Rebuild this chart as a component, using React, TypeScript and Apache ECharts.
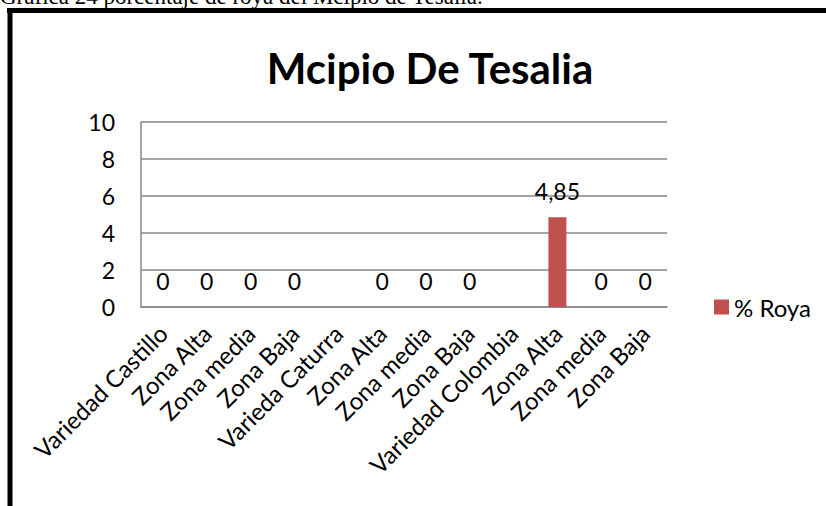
import React, { useEffect, useRef } from "react";
import * as echarts from "echarts";

const caption = "Grafica 24 porcentaje de roya del Mcipio de Tesalia.";
const title = "Mcipio De Tesalia";
const seriesName = "% Roya";
const categories = [
  "Variedad Castillo",
  "Zona Alta",
  "Zona media",
  "Zona Baja",
  "Varieda Caturra",
  "Zona Alta",
  "Zona media",
  "Zona Baja",
  "Variedad Colombia",
  "Zona Alta",
  "Zona media",
  "Zona Baja",
];
const values: (number | null)[] = [0, 0, 0, 0, null, 0, 0, 0, null, 4.85, 0, 0];
const yTicks = { min: 0, max: 10, interval: 2 };

const FONT = "Lato, 'Open Sans', sans-serif";

export default function App() {
  const ref = useRef<HTMLDivElement>(null);
  useEffect(() => {
    if (!ref.current) return;
    const chart = echarts.init(ref.current, undefined, { renderer: "svg" });
    chart.setOption({
      animation: false,
      backgroundColor: "#ffffff",
      title: {
        text: title,
        left: 425,
        textAlign: "center",
        top: 42,
        textStyle: { fontFamily: FONT, fontSize: 42, fontWeight: "bold", color: "#000" },
      },
      legend: {
        data: [seriesName],
        left: 709,
        top: 290,
        itemWidth: 15,
        itemHeight: 15,
        itemGap: 6,
        icon: "rect",
        textStyle: { fontFamily: FONT, fontSize: 24, color: "#000" },
      },
      grid: { left: 141, right: 159, top: 122, bottom: 199, containLabel: false },
      xAxis: {
        type: "category",
        data: categories,
        axisLine: { show: true, lineStyle: { color: "#878787", width: 1.5 } },
        axisTick: { show: false },
        axisLabel: {
          rotate: 45,
          interval: 0,
          margin: 22,
          fontFamily: FONT,
          fontSize: 24,
          color: "#000",
        },
      },
      yAxis: {
        type: "value",
        min: yTicks.min,
        max: yTicks.max,
        interval: yTicks.interval,
        axisLine: { show: true, lineStyle: { color: "#878787", width: 1.5 } },
        axisTick: { show: false },
        splitLine: { show: true, lineStyle: { color: "#878787", width: 1.5 } },
        axisLabel: { margin: 26, fontFamily: FONT, fontSize: 23, color: "#000" },
      },
      series: [
        {
          name: seriesName,
          type: "bar",
          data: values,
          barWidth: 18,
          itemStyle: { color: "#C0504D" },
          label: {
            show: true,
            position: "top",
            distance: 15,
            fontFamily: FONT,
            fontSize: 23,
            color: "#000",
            formatter: (p: any) =>
              p.value == null ? "" : String(p.value).replace(".", ","),
          },
        },
      ],
      graphic: [
        {
          type: "text",
          x: 0,
          y: 8,
          style: {
            text: caption,
            font: "23px 'Liberation Serif', 'Times New Roman', serif",
            fill: "#000",
            verticalAlign: "bottom",
          },
        },
        {
          type: "line",
          shape: { x1: 7, y1: 10.5, x2: 826, y2: 10.5 },
          style: { stroke: "#000", lineWidth: 5 },
        },
        {
          type: "line",
          shape: { x1: 10, y1: 8, x2: 10, y2: 506 },
          style: { stroke: "#000", lineWidth: 5 },
        },
      ],
    });
    return () => chart.dispose();
  }, []);
  return (
    <div
      ref={ref}
      style={{ position: "fixed", left: 0, top: 0, width: 826, height: 506 }}
    />
  );
}
